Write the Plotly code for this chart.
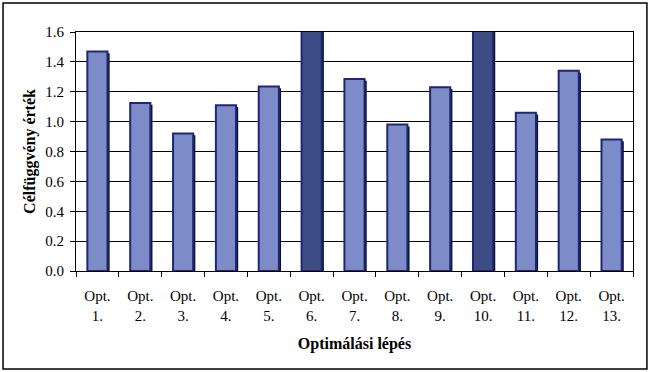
import plotly.graph_objects as go

categories = ["Opt.<br>%d." % i for i in range(1, 14)]
values = [1.47, 1.125, 0.92, 1.11, 1.235, 1.62, 1.285, 0.98, 1.23, 1.62, 1.06, 1.34, 0.88]
highlight = [False, False, False, False, False, True, False, False, False, True, False, False, False]

y_ticks = [0.0, 0.2, 0.4, 0.6, 0.8, 1.0, 1.2, 1.4, 1.6]
y_tick_text = ["%.1f" % v for v in y_ticks]

fill_colors = ["#3E4C86" if h else "#7D8BC9" for h in highlight]

fig = go.Figure()
# shadow
fig.add_trace(go.Bar(
    x=categories, y=[v - 0.012 for v in values],
    width=0.47, offset=-0.235 + 0.05,
    marker=dict(color="#0A0F30", line=dict(width=0)),
    hoverinfo="skip", showlegend=False,
))
fig.add_trace(go.Bar(
    x=categories, y=values,
    width=0.47, offset=-0.235,
    marker=dict(color=fill_colors, line=dict(color="#1E2870", width=2)),
    showlegend=False,
))

serif = "Liberation Serif, Times New Roman, serif"
fig.update_layout(
    width=651, height=372,
    barmode="overlay",
    margin=dict(l=76, r=18, t=32, b=101),
    paper_bgcolor="white",
    plot_bgcolor="white",
    font=dict(family=serif, size=15, color="black"),
    shapes=[dict(type="rect", xref="paper", yref="paper",
                 x0=-0.131, x1=1.025, y0=-0.41, y1=1.121,
                 line=dict(color="black", width=1.5))],
)
fig.update_xaxes(
    showline=True, linecolor="black", linewidth=1, mirror=True,
    ticks="outside", tickson="boundaries", ticklen=5, tickcolor="black",
    tickfont=dict(family=serif, size=15), ticklabelstandoff=11,
    title=dict(text="<b>Optimálási lépés</b>", font=dict(family=serif, size=16), standoff=15),
    showgrid=False,
)
fig.update_yaxes(
    range=[0, 1.6], tickvals=y_ticks, ticktext=y_tick_text,
    showline=True, linecolor="black", linewidth=1, mirror=True,
    ticks="outside", ticklen=5, tickcolor="black",
    tickfont=dict(family=serif, size=15), ticklabelstandoff=3,
    showgrid=True, gridcolor="black", gridwidth=1,
    title=dict(text="<b>Célfüggvény érték</b>", font=dict(family=serif, size=16), standoff=5),
)
fig.write_html("out.html", config={"displayModeBar": False},
               post_script="document.body.style.margin='0';")
